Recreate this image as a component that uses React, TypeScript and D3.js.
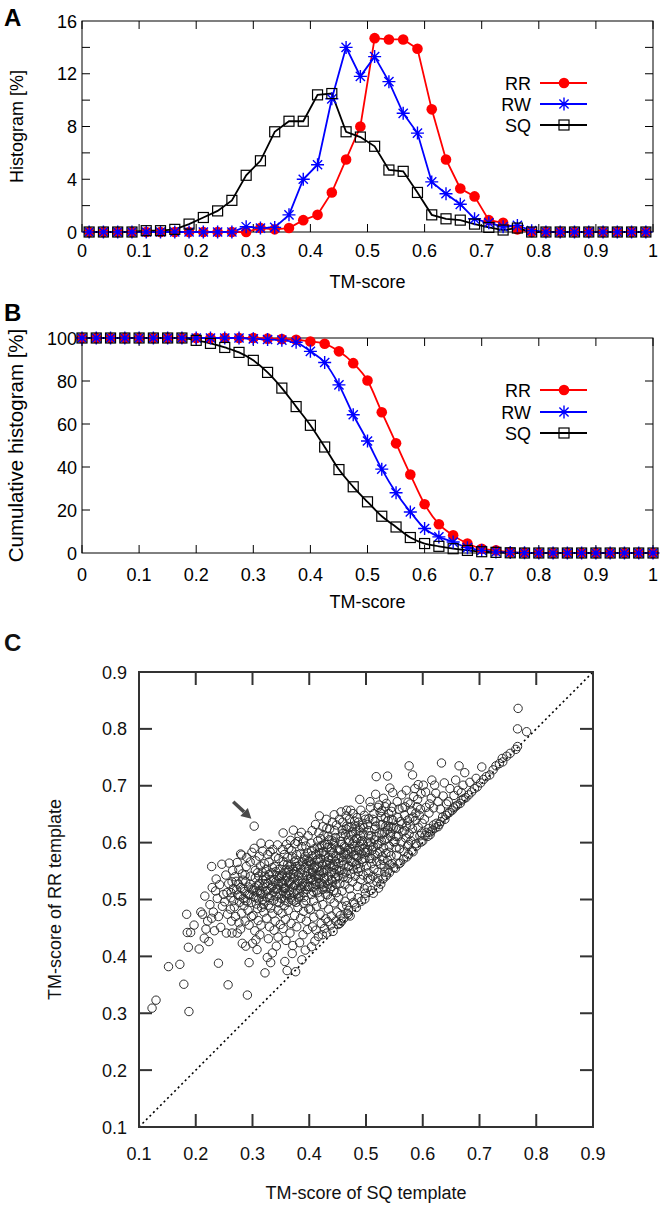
import React from "react";
import * as d3 from "d3";

// ---------- DATA ----------
const histX = [0.0125,0.0375,0.0625,0.0875,0.1125,0.1375,0.1625,0.1875,0.2125,0.2375,0.2625,0.2875,0.3125,0.3375,0.3625,0.3875,0.4125,0.4375,0.4625,0.4875,0.5125,0.5375,0.5625,0.5875,0.6125,0.6375,0.6625,0.6875,0.7125,0.7375,0.7625,0.7875,0.8125,0.8375,0.8625,0.8875,0.9125,0.9375,0.9625,0.9875];
const histRR = [0,0,0,0,0,0,0,0,0,0,0,0,0.3,0.2,0.3,0.9,1.3,3.0,5.5,8.0,14.7,14.6,14.6,13.9,9.3,5.5,3.3,2.7,0.9,0.7,0.2,0,0,0,0,0,0,0,0,0];
const histRW = [0,0,0,0,0,0,0,0,0,0,0,0.4,0.3,0.35,1.3,4.0,5.1,10.1,14.0,11.8,13.3,11.4,9.0,7.5,3.8,2.9,2.1,1.0,0.7,0.4,0.5,0.1,0,0,0,0,0,0,0,0];
const histSQ = [0,0,0,0,0.1,0.1,0.2,0.6,1.1,1.6,2.4,4.3,5.4,7.6,8.4,8.4,10.4,10.5,7.6,7.2,6.5,4.7,4.6,3.0,1.3,1.0,0.9,0.6,0.35,0.15,0.3,0,0,0,0,0,0,0,0,0];

const cumX = [0,0.025,0.05,0.075,0.1,0.125,0.15,0.175,0.2,0.225,0.25,0.275,0.3,0.325,0.35,0.375,0.4,0.425,0.45,0.475,0.5,0.525,0.55,0.575,0.6,0.625,0.65,0.675,0.7,0.725,0.75,0.775,0.8,0.825,0.85,0.875,0.9,0.925,0.95,0.975,1.0];
const cumRR = [100,100,100,100,100,100,100,100,100,100,100,100,100,99.7,99.5,99.2,98.4,97.3,93.8,88.3,80.2,65.5,51.0,36.5,22.7,13.4,8.2,4.4,2.0,1.2,0.3,0.1,0,0,0,0,0,0,0,0,0];
const cumRW = [100,100,100,100,100,100,100,100,100,100,100,100,99.6,99.3,99.0,98.0,93.8,88.6,78.2,64.3,52.1,39.0,28.0,19.1,11.4,7.5,5.1,2.5,1.2,0.5,0.2,0.1,0,0,0,0,0,0,0,0,0];
const cumSQ = [100,100,100,100,100,100,100,100,98.9,97.5,95.6,93.3,89.6,84.0,76.7,68.1,59.4,49.3,38.8,30.8,23.8,17.1,12.1,7.2,4.4,3.1,2.0,1.2,0.6,0.3,0.1,0,0,0,0,0,0,0,0,0,0];

const seriesNames = ["RR", "RW", "SQ"];
const xTicks = [0,0.1,0.2,0.3,0.4,0.5,0.6,0.7,0.8,0.9,1];
const xTickLabels = ["0","0.1","0.2","0.3","0.4","0.5","0.6","0.7","0.8","0.9","1"];
const histYTicks = [0,4,8,12,16];
const histYMinor = [2,4,6,8,10,12,14];
const cumYTicks = [0,20,40,60,80,100];
const scTicks = [0.1,0.2,0.3,0.4,0.5,0.6,0.7,0.8,0.9];

// scatter: [TM-score of SQ template, TM-score of RR template]
const scatterOuter: [number, number][] = [
[0.123,0.309],[0.130,0.323],[0.188,0.303],[0.179,0.351],[0.152,0.382],[0.172,0.386],[0.187,0.416],[0.185,0.442],[0.191,0.442],[0.184,0.474],[0.197,0.455],
[0.206,0.413],[0.212,0.474],[0.215,0.432],[0.223,0.426],[0.216,0.506],[0.235,0.515],[0.228,0.558],[0.246,0.562],[0.228,0.467],[0.240,0.470],[0.240,0.388],[0.221,0.462],[0.218,0.448],[0.231,0.478],[0.225,0.491],[0.238,0.502],[0.244,0.451],[0.209,0.478],[0.233,0.445],[0.247,0.488],[0.242,0.526],[0.236,0.536],[0.249,0.509],[0.229,0.521],
[0.259,0.564],[0.273,0.565],[0.279,0.580],[0.257,0.350],[0.254,0.441],[0.264,0.441],[0.273,0.441],[0.282,0.423],[0.288,0.418],[0.291,0.332],[0.294,0.389],[0.251,0.496],[0.255,0.512],[0.258,0.528],[0.262,0.503],[0.266,0.519],[0.268,0.487],[0.271,0.532],[0.274,0.508],[0.277,0.495],[0.279,0.521],[0.282,0.545],[0.284,0.502],[0.286,0.514],[0.288,0.531],[0.291,0.497],[0.293,0.522],[0.295,0.508],[0.297,0.541],[0.299,0.518],[0.256,0.474],[0.263,0.462],[0.270,0.470],[0.276,0.459],[0.281,0.476],[0.287,0.462],[0.292,0.481],[0.298,0.470],[0.253,0.543],[0.265,0.551],[0.276,0.553],[0.289,0.558],[0.296,0.566],[0.283,0.534],[0.269,0.540],[0.261,0.483],[0.285,0.489],[0.294,0.455],[0.279,0.448],[0.299,0.583],[0.290,0.574],[0.281,0.578],
[0.303,0.629],[0.300,0.423],[0.306,0.429],[0.322,0.371],[0.332,0.389],[0.335,0.406],[0.345,0.434],[0.302,0.505],[0.304,0.521],[0.305,0.538],[0.307,0.492],[0.308,0.513],[0.309,0.547],[0.311,0.501],[0.312,0.528],[0.313,0.516],[0.314,0.559],[0.316,0.486],[0.317,0.509],[0.318,0.534],[0.319,0.522],[0.321,0.497],[0.322,0.541],[0.323,0.515],[0.324,0.553],[0.326,0.504],[0.327,0.528],[0.328,0.490],[0.329,0.566],[0.331,0.519],[0.332,0.535],[0.333,0.507],[0.334,0.547],[0.336,0.525],[0.337,0.498],[0.338,0.514],[0.339,0.558],[0.341,0.531],[0.342,0.506],[0.343,0.542],[0.344,0.519],[0.346,0.572],[0.347,0.494],[0.348,0.537],[0.349,0.511],[0.301,0.472],[0.310,0.463],[0.315,0.455],[0.320,0.478],[0.325,0.467],[0.330,0.452],[0.335,0.475],[0.340,0.462],[0.345,0.481],[0.349,0.456],[0.304,0.445],[0.313,0.438],[0.328,0.431],[0.338,0.446],[0.312,0.576],[0.318,0.585],[0.327,0.579],[0.336,0.588],[0.344,0.596],[0.306,0.568],[0.321,0.563],[0.340,0.575],[0.347,0.553],[0.330,0.597],[0.315,0.599],[0.308,0.412],[0.326,0.398],[0.342,0.418],[0.303,0.590],[0.331,0.584],
[0.357,0.391],[0.361,0.375],[0.376,0.373],[0.370,0.405],[0.372,0.622],[0.387,0.394],[0.354,0.617],[0.351,0.502],[0.352,0.527],[0.353,0.545],[0.354,0.514],[0.355,0.561],[0.356,0.489],[0.357,0.533],[0.358,0.520],[0.359,0.552],[0.360,0.507],[0.361,0.541],[0.362,0.574],[0.363,0.496],[0.364,0.529],[0.365,0.515],[0.366,0.558],[0.367,0.544],[0.368,0.503],[0.369,0.586],[0.371,0.522],[0.372,0.537],[0.373,0.511],[0.374,0.566],[0.375,0.549],[0.376,0.527],[0.377,0.495],[0.378,0.579],[0.379,0.516],[0.381,0.542],[0.382,0.531],[0.383,0.561],[0.384,0.505],[0.385,0.553],[0.386,0.522],[0.387,0.593],[0.388,0.538],[0.389,0.512],[0.391,0.571],[0.392,0.547],[0.393,0.529],[0.394,0.498],[0.395,0.563],[0.396,0.518],[0.397,0.582],[0.398,0.536],[0.399,0.554],[0.352,0.476],[0.358,0.465],[0.363,0.481],[0.368,0.458],[0.374,0.472],[0.380,0.486],[0.385,0.467],[0.390,0.479],[0.395,0.462],[0.399,0.484],[0.354,0.449],[0.366,0.441],[0.378,0.452],[0.389,0.438],[0.397,0.447],[0.359,0.428],[0.371,0.419],[0.383,0.424],[0.393,0.411],[0.353,0.588],[0.360,0.597],[0.367,0.604],[0.375,0.598],[0.382,0.611],[0.390,0.603],[0.398,0.612],[0.356,0.579],[0.364,0.590],[0.379,0.602],[0.386,0.618],[0.394,0.594],[0.351,0.542],[0.363,0.548],[0.371,0.553],[0.379,0.558],[0.388,0.566],[0.396,0.571],[0.355,0.521],[0.366,0.532],[0.374,0.525],[0.384,0.519],[0.392,0.523],[0.358,0.510],[0.369,0.499],[0.381,0.503],[0.390,0.493],
[0.404,0.417],[0.416,0.435],[0.442,0.444],[0.418,0.647],[0.444,0.649],[0.431,0.625],[0.401,0.523],[0.402,0.546],[0.403,0.561],[0.404,0.509],[0.405,0.577],[0.406,0.534],[0.407,0.552],[0.408,0.498],[0.409,0.589],[0.410,0.541],[0.411,0.526],[0.412,0.568],[0.413,0.515],[0.414,0.557],[0.415,0.603],[0.416,0.537],[0.417,0.582],[0.418,0.549],[0.419,0.504],[0.420,0.572],[0.421,0.529],[0.422,0.595],[0.423,0.561],[0.424,0.518],[0.425,0.547],[0.426,0.613],[0.427,0.536],[0.428,0.578],[0.429,0.509],[0.430,0.566],[0.431,0.552],[0.432,0.591],[0.433,0.527],[0.434,0.541],[0.435,0.605],[0.436,0.563],[0.437,0.519],[0.438,0.584],[0.439,0.548],[0.440,0.573],[0.441,0.532],[0.443,0.598],[0.444,0.557],[0.445,0.621],[0.446,0.539],[0.447,0.577],[0.448,0.512],[0.449,0.589],[0.402,0.482],[0.408,0.469],[0.413,0.488],[0.419,0.474],[0.424,0.491],[0.429,0.466],[0.434,0.483],[0.439,0.471],[0.444,0.494],[0.449,0.478],[0.406,0.452],[0.412,0.446],[0.421,0.458],[0.427,0.449],[0.433,0.461],[0.438,0.455],[0.447,0.462],[0.410,0.427],[0.423,0.438],[0.431,0.441],[0.405,0.621],[0.411,0.632],[0.417,0.617],[0.424,0.628],[0.430,0.641],[0.436,0.624],[0.441,0.636],[0.448,0.631],[0.403,0.599],[0.414,0.592],[0.420,0.607],[0.427,0.597],[0.433,0.611],[0.440,0.604],[0.446,0.609],[0.401,0.567],[0.409,0.556],[0.415,0.571],[0.422,0.583],[0.428,0.552],[0.434,0.569],[0.442,0.561],[0.448,0.553],[0.404,0.538],[0.412,0.531],[0.418,0.528],[0.426,0.522],[0.432,0.508],[0.437,0.501],[0.443,0.516],[0.447,0.527],[0.407,0.514],[0.419,0.543],[0.439,0.535],[0.445,0.546],
[0.454,0.458],[0.478,0.495],[0.456,0.654],[0.473,0.657],[0.489,0.676],[0.466,0.657],[0.451,0.541],[0.452,0.563],[0.453,0.587],[0.454,0.528],[0.455,0.602],[0.456,0.551],[0.457,0.574],[0.458,0.515],[0.459,0.616],[0.460,0.539],[0.461,0.561],[0.462,0.594],[0.463,0.526],[0.464,0.582],[0.465,0.548],[0.466,0.629],[0.467,0.571],[0.468,0.537],[0.469,0.604],[0.470,0.558],[0.471,0.519],[0.472,0.589],[0.473,0.545],[0.474,0.612],[0.475,0.567],[0.476,0.531],[0.477,0.598],[0.478,0.553],[0.479,0.578],[0.480,0.638],[0.481,0.541],[0.482,0.586],[0.483,0.562],[0.484,0.607],[0.485,0.523],[0.486,0.574],[0.487,0.549],[0.488,0.621],[0.489,0.593],[0.490,0.556],[0.491,0.535],[0.492,0.581],[0.493,0.604],[0.494,0.566],[0.495,0.543],[0.496,0.626],[0.497,0.589],[0.498,0.572],[0.499,0.511],[0.452,0.503],[0.458,0.488],[0.463,0.497],[0.469,0.481],[0.474,0.506],[0.480,0.492],[0.486,0.503],[0.492,0.497],[0.497,0.519],[0.455,0.472],[0.461,0.467],[0.467,0.476],[0.472,0.471],[0.466,0.489],[0.457,0.462],[0.451,0.456],[0.469,0.473],[0.483,0.486],[0.498,0.501],[0.453,0.641],[0.459,0.636],[0.465,0.647],[0.471,0.641],[0.477,0.651],[0.484,0.644],[0.491,0.657],[0.497,0.648],[0.458,0.622],[0.464,0.614],[0.470,0.627],[0.476,0.619],[0.482,0.628],[0.487,0.636],[0.494,0.631],[0.499,0.641],[0.457,0.597],[0.468,0.586],[0.479,0.603],[0.490,0.612],[0.461,0.579],[0.472,0.568],[0.483,0.577],[0.495,0.597],
[0.513,0.511],[0.522,0.520],[0.539,0.552],[0.507,0.672],[0.523,0.666],[0.536,0.669],[0.518,0.716],[0.538,0.717],[0.547,0.688],[0.542,0.696],[0.501,0.559],[0.502,0.583],[0.503,0.601],[0.504,0.547],[0.505,0.621],[0.506,0.572],[0.507,0.594],[0.508,0.536],[0.509,0.612],[0.510,0.563],[0.511,0.587],[0.512,0.641],[0.514,0.553],[0.515,0.605],[0.516,0.578],[0.517,0.629],[0.519,0.567],[0.520,0.596],[0.521,0.548],[0.523,0.617],[0.524,0.584],[0.525,0.653],[0.526,0.562],[0.527,0.603],[0.528,0.575],[0.529,0.632],[0.531,0.591],[0.532,0.558],[0.533,0.618],[0.534,0.644],[0.535,0.581],[0.537,0.607],[0.538,0.569],[0.540,0.628],[0.541,0.594],[0.543,0.611],[0.544,0.577],[0.545,0.655],[0.546,0.563],[0.548,0.639],[0.549,0.601],[0.502,0.521],[0.509,0.516],[0.519,0.531],[0.526,0.527],[0.530,0.536],[0.535,0.541],[0.541,0.547],[0.549,0.556],[0.503,0.537],[0.512,0.541],[0.521,0.537],[0.533,0.548],[0.542,0.561],[0.508,0.662],[0.514,0.651],[0.521,0.662],[0.528,0.656],[0.534,0.663],[0.540,0.651],[0.546,0.662],[0.505,0.642],[0.516,0.637],[0.527,0.646],[0.539,0.639],[0.544,0.628],[0.503,0.632],[0.517,0.685],[0.531,0.678],
[0.560,0.564],[0.572,0.575],[0.583,0.584],[0.576,0.735],[0.582,0.719],[0.551,0.602],[0.553,0.626],[0.554,0.578],[0.556,0.644],[0.557,0.611],[0.559,0.589],[0.561,0.637],[0.562,0.601],[0.564,0.661],[0.565,0.619],[0.567,0.584],[0.568,0.648],[0.570,0.608],[0.571,0.629],[0.573,0.594],[0.574,0.671],[0.576,0.615],[0.577,0.642],[0.579,0.603],[0.580,0.656],[0.582,0.624],[0.584,0.681],[0.585,0.611],[0.587,0.639],[0.588,0.598],[0.590,0.663],[0.592,0.627],[0.594,0.648],[0.595,0.612],[0.597,0.686],[0.599,0.634],[0.552,0.555],[0.558,0.563],[0.566,0.571],[0.575,0.579],[0.581,0.586],[0.589,0.594],[0.597,0.601],[0.555,0.672],[0.563,0.684],[0.571,0.692],[0.578,0.668],[0.586,0.695],[0.592,0.702],[0.558,0.659],[0.569,0.663],[0.591,0.676],[0.596,0.659],[0.553,0.591],[0.575,0.597],[0.598,0.617],
[0.600,0.603],[0.613,0.614],[0.627,0.628],[0.639,0.641],[0.616,0.710],[0.601,0.701],[0.633,0.740],[0.604,0.612],[0.607,0.618],[0.609,0.611],[0.611,0.625],[0.614,0.619],[0.617,0.622],[0.619,0.631],[0.622,0.626],[0.624,0.634],[0.629,0.632],[0.632,0.637],[0.635,0.645],[0.641,0.648],[0.644,0.651],[0.647,0.653],[0.603,0.641],[0.606,0.662],[0.611,0.652],[0.615,0.678],[0.619,0.661],[0.623,0.687],[0.627,0.672],[0.631,0.659],[0.636,0.682],[0.642,0.668],[0.648,0.695],[0.605,0.689],[0.621,0.701],[0.638,0.705],[0.612,0.668],[0.645,0.672],
[0.664,0.735],[0.674,0.723],[0.652,0.657],[0.655,0.661],[0.658,0.664],[0.661,0.666],[0.666,0.669],[0.669,0.675],[0.672,0.677],[0.676,0.679],[0.681,0.684],[0.686,0.689],[0.691,0.695],[0.696,0.698],[0.655,0.683],[0.662,0.692],[0.671,0.701],[0.683,0.706],[0.658,0.710],[0.694,0.713],[0.668,0.688],
[0.704,0.733],[0.718,0.719],[0.740,0.748],[0.741,0.742],[0.764,0.764],[0.767,0.769],[0.767,0.800],[0.783,0.795],[0.768,0.836],[0.702,0.705],[0.707,0.711],[0.712,0.716],[0.724,0.728],[0.729,0.735],[0.735,0.739],[0.748,0.752],[0.754,0.757]
];

// extra points of the dense core of the cloud
const scatterCore: [number, number][] = [
[0.262,0.512],[0.267,0.498],[0.272,0.517],[0.278,0.506],[0.283,0.519],[0.287,0.498],[0.292,0.509],[0.296,0.527],[0.264,0.531],[0.275,0.527],[0.287,0.543],[0.298,0.495],
[0.302,0.516],[0.306,0.503],[0.310,0.524],[0.314,0.511],[0.318,0.499],[0.322,0.528],[0.326,0.515],[0.330,0.503],[0.334,0.522],[0.338,0.535],[0.342,0.518],[0.346,0.527],[0.305,0.551],[0.311,0.541],[0.317,0.548],[0.323,0.536],[0.329,0.544],[0.335,0.556],[0.341,0.549],[0.347,0.541],[0.309,0.484],[0.319,0.491],[0.332,0.485],[0.344,0.496],
[0.352,0.531],[0.356,0.519],[0.360,0.538],[0.364,0.552],[0.368,0.527],[0.372,0.545],[0.376,0.558],[0.380,0.534],[0.384,0.547],[0.388,0.529],[0.392,0.556],[0.396,0.541],[0.354,0.567],[0.362,0.562],[0.370,0.575],[0.377,0.569],[0.385,0.581],[0.393,0.576],[0.399,0.567],[0.357,0.498],[0.365,0.508],[0.373,0.497],[0.382,0.511],[0.391,0.504],[0.398,0.523],
[0.402,0.536],[0.406,0.548],[0.410,0.559],[0.414,0.543],[0.418,0.566],[0.422,0.551],[0.426,0.538],[0.430,0.561],[0.434,0.574],[0.438,0.558],[0.442,0.582],[0.446,0.567],[0.404,0.586],[0.412,0.579],[0.419,0.591],[0.425,0.584],[0.432,0.597],[0.439,0.591],[0.445,0.601],[0.407,0.521],[0.415,0.512],[0.423,0.527],[0.431,0.519],[0.440,0.523],[0.447,0.536],
[0.451,0.572],[0.455,0.586],[0.459,0.568],[0.463,0.591],[0.467,0.579],[0.471,0.601],[0.475,0.584],[0.479,0.593],[0.483,0.608],[0.487,0.586],[0.491,0.602],[0.495,0.615],[0.453,0.551],[0.461,0.545],[0.469,0.559],[0.477,0.565],[0.485,0.554],[0.493,0.571],[0.499,0.583],[0.456,0.611],[0.465,0.624],[0.474,0.628],[0.482,0.619],[0.490,0.626],
[0.503,0.588],[0.508,0.601],[0.513,0.593],[0.518,0.611],[0.523,0.598],[0.528,0.615],[0.533,0.604],[0.538,0.622],[0.543,0.617],[0.548,0.626],[0.505,0.612],[0.515,0.624],[0.525,0.631],[0.535,0.629],[0.545,0.641],[0.553,0.611],[0.558,0.624],[0.563,0.633],[0.568,0.621],[0.573,0.639],[0.578,0.631],[0.583,0.645],[0.588,0.652],[0.510,0.572],[0.520,0.581],[0.530,0.569],[0.540,0.583]
];

const arrowFrom: [number, number] = [0.266, 0.672];
const arrowTo: [number, number] = [0.298, 0.642];

// ---------- STYLE ----------
const FONT = "'Liberation Sans', Arial, Helvetica, sans-serif";
const colors: Record<string, string> = { RR: "#ff0000", RW: "#0000ff", SQ: "#000000" };

function Marker({ type, x, y }: { type: string; x: number; y: number }) {
  if (type === "RR") return <circle cx={x} cy={y} r={5.3} fill={colors.RR} />;
  if (type === "RW") {
    const s = 6.5, k = 4.6;
    return (
      <path
        d={`M${x - s},${y}L${x + s},${y}M${x},${y - s}L${x},${y + s}M${x - k},${y - k}L${x + k},${y + k}M${x - k},${y + k}L${x + k},${y - k}`}
        stroke={colors.RW}
        strokeWidth={1.4}
        fill="none"
      />
    );
  }
  return <rect x={x - 5} y={y - 5} width={10} height={10} fill="none" stroke="#000" strokeWidth={1.2} />;
}

type PanelProps = {
  top: number;
  bottom: number;
  xs: number[];
  series: number[][];
  yMax: number;
  yTicks: number[];
  yMinor: number[];
  yLabel: string;
  yLabelSize: number;
  letter: string;
  letterY: number;
  legendY: number[];
  curve: any;
  tickBaseline: number;
  titleBaseline: number;
};

function LinePanel(p: PanelProps) {
  const left = 82, right = 653;
  const x = d3.scaleLinear().domain([0, 1]).range([left, right]);
  const y = d3.scaleLinear().domain([0, p.yMax]).range([p.bottom, p.top]);
  const tl = 8;
  return (
    <g fontFamily={FONT} fill="#000">
      <text x={4} y={p.letterY} fontSize={24} fontWeight="bold">{p.letter}</text>
      {xTicks.map((t, i) => (
        <g key={"xt" + i}>
          <line x1={x(t)} x2={x(t)} y1={p.bottom} y2={p.bottom - tl} stroke="#000" strokeWidth={1} />
          <line x1={x(t)} x2={x(t)} y1={p.top} y2={p.top + tl} stroke="#000" strokeWidth={1} />
          <text x={x(t)} y={p.tickBaseline} fontSize={18} textAnchor="middle">{xTickLabels[i]}</text>
        </g>
      ))}
      {p.yMinor.map((t, i) => (
        <g key={"ym" + i}>
          <line x1={left} x2={left + tl} y1={y(t)} y2={y(t)} stroke="#000" strokeWidth={1} />
          <line x1={right} x2={right - tl} y1={y(t)} y2={y(t)} stroke="#000" strokeWidth={1} />
        </g>
      ))}
      {p.yTicks.map((t, i) => (
        <text key={"yl" + i} x={77} y={y(t) + 6.5} fontSize={18} textAnchor="end">{t}</text>
      ))}
      <rect x={left} y={p.top} width={right - left} height={p.bottom - p.top} fill="none" stroke="#000" strokeWidth={1} />
      {p.series.map((vals, si) => {
        const line = d3.line<number>().x((_, i) => x(p.xs[i])).y((v) => y(v)).curve(p.curve);
        return <path key={"l" + si} d={line(vals) || ""} fill="none" stroke={colors[seriesNames[si]]} strokeWidth={1.8} />;
      })}
      {p.series.map((vals, si) => (
        <g key={"m" + si}>
          {vals.map((v, i) => <Marker key={i} type={seriesNames[si]} x={x(p.xs[i])} y={y(v)} />)}
        </g>
      ))}
      {seriesNames.map((n, i) => (
        <g key={"lg" + n}>
          <text x={531} y={p.legendY[i] + 6.5} fontSize={18} textAnchor="end">{n}</text>
          <line x1={540} x2={587} y1={p.legendY[i]} y2={p.legendY[i]} stroke={colors[n]} strokeWidth={1.8} />
          <Marker type={n} x={564} y={p.legendY[i]} />
        </g>
      ))}
      <text x={(left + right) / 2} y={p.titleBaseline} fontSize={18} textAnchor="middle">TM-score</text>
      <text transform={`translate(23,${(p.top + p.bottom) / 2}) rotate(-90)`} fontSize={p.yLabelSize} textAnchor="middle">{p.yLabel}</text>
    </g>
  );
}

function ScatterPanel() {
  const left = 139, right = 593, top = 672, bottom = 1127;
  const x = d3.scaleLinear().domain([0.1, 0.9]).range([left, right]);
  const y = d3.scaleLinear().domain([0.1, 0.9]).range([bottom, top]);
  const tl = 13;
  const ax = x(arrowFrom[0]), ay = y(arrowFrom[1]);
  const bx = x(arrowTo[0]), by = y(arrowTo[1]);
  const ang = Math.atan2(by - ay, bx - ax);
  const hl = 10, hw = 5.5;
  const baseX = bx - hl * Math.cos(ang), baseY = by - hl * Math.sin(ang);
  const px = -Math.sin(ang), py = Math.cos(ang);
  const inner = [0.2, 0.3, 0.4, 0.5, 0.6, 0.7, 0.8];
  const gray = "#333";
  const pts = scatterOuter.concat(scatterCore);
  return (
    <g fontFamily={FONT} fill="#111">
      <text x={4} y={651} fontSize={24} fontWeight="bold">C</text>
      <line x1={x(0.1)} y1={y(0.1)} x2={x(0.9)} y2={y(0.9)} stroke="#000" strokeWidth={1.6} strokeDasharray="2,3" />
      {pts.map((d, i) => (
        <circle key={i} cx={x(d[0])} cy={y(d[1])} r={4.2} fill="none" stroke="#2e2e2e" strokeWidth={1} />
      ))}
      <line x1={ax} y1={ay} x2={baseX} y2={baseY} stroke="#4a4a4a" strokeWidth={3.5} />
      <path d={`M${bx},${by}L${baseX + px * hw},${baseY + py * hw}L${baseX - px * hw},${baseY - py * hw}Z`} fill="#4a4a4a" />
      {inner.map((t, i) => (
        <g key={"t" + i}>
          <line x1={x(t)} x2={x(t)} y1={bottom} y2={bottom - tl} stroke={gray} strokeWidth={2} />
          <line x1={x(t)} x2={x(t)} y1={top} y2={top + tl} stroke={gray} strokeWidth={2} />
          <line x1={left} x2={left + tl} y1={y(t)} y2={y(t)} stroke={gray} strokeWidth={2} />
          <line x1={right} x2={right - tl} y1={y(t)} y2={y(t)} stroke={gray} strokeWidth={2} />
        </g>
      ))}
      <rect x={left} y={top} width={right - left} height={bottom - top} fill="none" stroke={gray} strokeWidth={2} />
      {scTicks.map((t, i) => (
        <g key={"lab" + i}>
          <text x={127} y={y(t) + 6.5} fontSize={18} textAnchor="end">{t.toFixed(1)}</text>
          <text x={x(t)} y={1160} fontSize={18} textAnchor="middle">{t.toFixed(1)}</text>
        </g>
      ))}
      <text x={(left + right) / 2} y={1199} fontSize={18} textAnchor="middle">TM-score of SQ template</text>
      <text transform={`translate(61,${(top + bottom) / 2}) rotate(-90)`} fontSize={18} textAnchor="middle">TM-score of RR template</text>
    </g>
  );
}

export default function App() {
  return (
    <div style={{ position: "absolute", left: 0, top: 0, width: 664, height: 1209, background: "#fff" }}>
      <svg width={664} height={1209} viewBox="0 0 664 1209" style={{ display: "block" }}>
        <rect x={0} y={0} width={664} height={1209} fill="#fff" />
        <LinePanel
          top={21}
          bottom={232}
          xs={histX}
          series={[histRR, histRW, histSQ]}
          yMax={16}
          yTicks={histYTicks}
          yMinor={histYMinor}
          yLabel="Histogram [%]"
          yLabelSize={18}
          letter="A"
          letterY={26}
          legendY={[83, 104, 125]}
          curve={d3.curveLinear}
          tickBaseline={257}
          titleBaseline={288}
        />
        <LinePanel
          top={338}
          bottom={553}
          xs={cumX}
          series={[cumRR, cumRW, cumSQ]}
          yMax={100}
          yTicks={cumYTicks}
          yMinor={[20, 40, 60, 80]}
          yLabel="Cumulative histogram [%]"
          yLabelSize={20.5}
          letter="B"
          letterY={321}
          legendY={[390, 412, 433]}
          curve={d3.curveMonotoneX}
          tickBaseline={581}
          titleBaseline={608}
        />
        <ScatterPanel />
      </svg>
    </div>
  );
}
